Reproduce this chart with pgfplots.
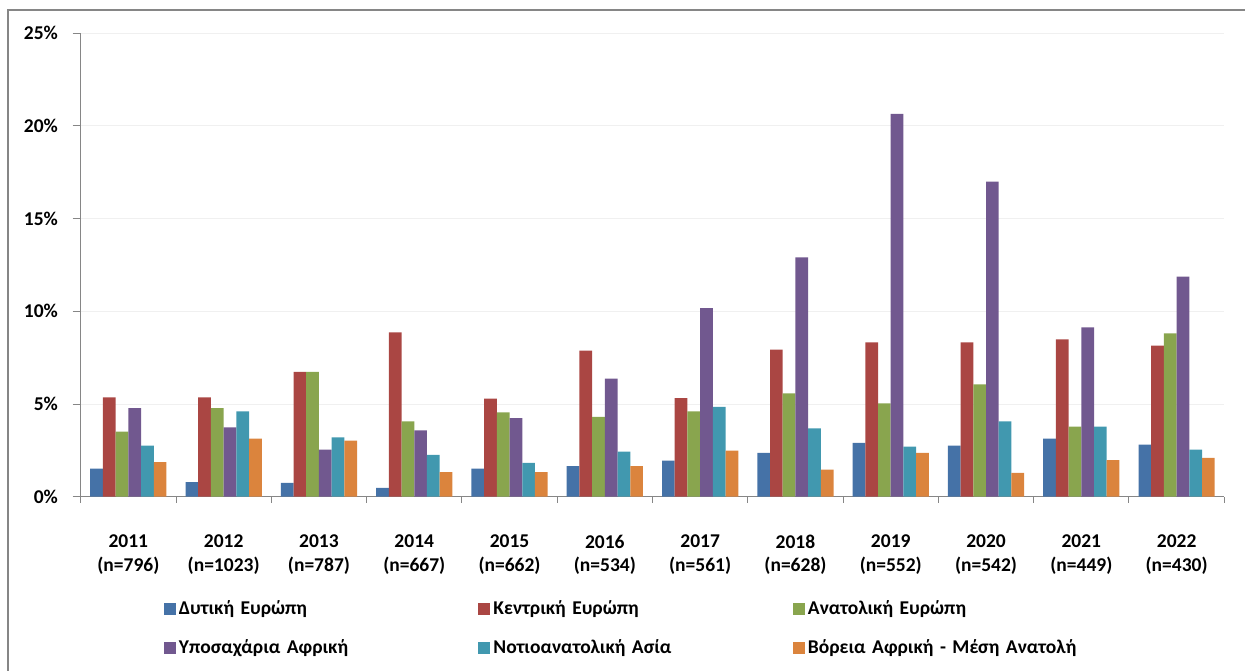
\documentclass[border=0pt]{standalone}
\usepackage{fontspec}
\setmainfont{Carlito}
\usepackage{pgfplots}
\pgfplotsset{compat=1.18}
\definecolor{c1}{HTML}{4572A7}
\definecolor{c2}{HTML}{AA4643}
\definecolor{c3}{HTML}{89A54E}
\definecolor{c4}{HTML}{71588F}
\definecolor{c5}{HTML}{4198AF}
\definecolor{c6}{HTML}{DB843D}
\definecolor{axisgray}{HTML}{868686}
\definecolor{gridgray}{HTML}{F0F0F0}
\newcommand{\lf}{\bfseries\fontsize{19.5}{23.5}\selectfont}
\begin{document}
\begin{tikzpicture}[x=1pt,y=1pt]
\useasboundingbox (0,0) rectangle (1245,670);
\draw[color=axisgray, line width=2pt] (8,-5) -- (8,660) -- (1250,660);
\begin{axis}[
  at={(80.7pt,173.3pt)}, anchor=south west,
  scale only axis, width=1143.6pt, height=463.4pt,
  xmin=-0.5, xmax=11.5, ymin=0, ymax=25,
  ybar=0pt, bar width=12.7pt,
  axis x line*=bottom, axis y line*=left,
  axis line style={color=axisgray, line width=1pt},
  tick align=outside,
  ytick={0,5,...,25},
  yticklabels={0\%,5\%,10\%,15\%,20\%,25\%},
  major tick length=8pt,
  minor tick length=6pt,
  xtick={0,...,11},
  minor xtick={-0.5,0.5,...,11.5},
  major x tick style={draw=none},
  minor x tick style={color=axisgray, line width=1pt},
  major y tick style={color=axisgray, line width=1pt},
  xticklabels={{2011\\(n=796)},{2012\\(n=1023)},{2013\\(n=787)},{2014\\(n=667)},{2015\\(n=662)},{2016\\(n=534)},{2017\\(n=561)},{2018\\(n=628)},{2019\\(n=552)},{2020\\(n=542)},{2021\\(n=449)},{2022\\(n=430)}},
  xticklabel style={align=center, font=\lf, inner sep=0pt, yshift=-30pt},
  yticklabel style={font=\lf, inner sep=0pt, xshift=-14.6pt},
  ymajorgrids, major grid style={color=gridgray, line width=1pt},
  legend columns=3,
  legend style={at={(axis description cs:0.0728,-0.2272)}, anchor=north west,
    draw=none, fill=none, inner sep=0pt, outer sep=0pt,
    /tikz/every odd column/.style={column sep=3pt},
    /tikz/every even column/.style={column sep=0pt},
    row sep=22pt,
    nodes={inner sep=0pt, anchor=base west, text width=299.5pt, text height=13pt, text depth=4pt, align=left, font=\lf}},
  legend image code/.code={\fill[#1] (0pt,-0.5pt) rectangle (12pt,11.5pt);},
]
\addplot[fill=c1, draw=none] coordinates {(0,1.51) (1,0.79) (2,0.74) (3,0.47) (4,1.51) (5,1.65) (6,1.94) (7,2.37) (8,2.91) (9,2.75) (10,3.13) (11,2.81)};
\addlegendentry{Δυτική Ευρώπη}
\addplot[fill=c2, draw=none] coordinates {(0,5.36) (1,5.36) (2,6.74) (3,8.87) (4,5.29) (5,7.88) (6,5.32) (7,7.93) (8,8.33) (9,8.33) (10,8.49) (11,8.15)};
\addlegendentry{Κεντρική Ευρώπη}
\addplot[fill=c3, draw=none] coordinates {(0,3.51) (1,4.78) (2,6.74) (3,4.06) (4,4.55) (5,4.30) (6,4.60) (7,5.58) (8,5.04) (9,6.06) (10,3.78) (11,8.81)};
\addlegendentry{Ανατολική Ευρώπη}
\addplot[fill=c4, draw=none] coordinates {(0,4.78) (1,3.74) (2,2.54) (3,3.58) (4,4.24) (5,6.37) (6,10.18) (7,12.91) (8,20.65) (9,17.00) (10,9.14) (11,11.87)};
\addlegendentry{Υποσαχάρια Αφρική}
\addplot[fill=c5, draw=none] coordinates {(0,2.75) (1,4.60) (2,3.20) (3,2.25) (4,1.83) (5,2.43) (6,4.84) (7,3.69) (8,2.70) (9,4.06) (10,3.78) (11,2.54)};
\addlegendentry{Νοτιοανατολική Ασία}
\addplot[fill=c6, draw=none] coordinates {(0,1.87) (1,3.13) (2,3.02) (3,1.33) (4,1.33) (5,1.65) (6,2.48) (7,1.46) (8,2.37) (9,1.28) (10,1.98) (11,2.09)};
\addlegendentry{Βόρεια Αφρική - Μέση Ανατολή}
\end{axis}
\end{tikzpicture}
\end{document}
